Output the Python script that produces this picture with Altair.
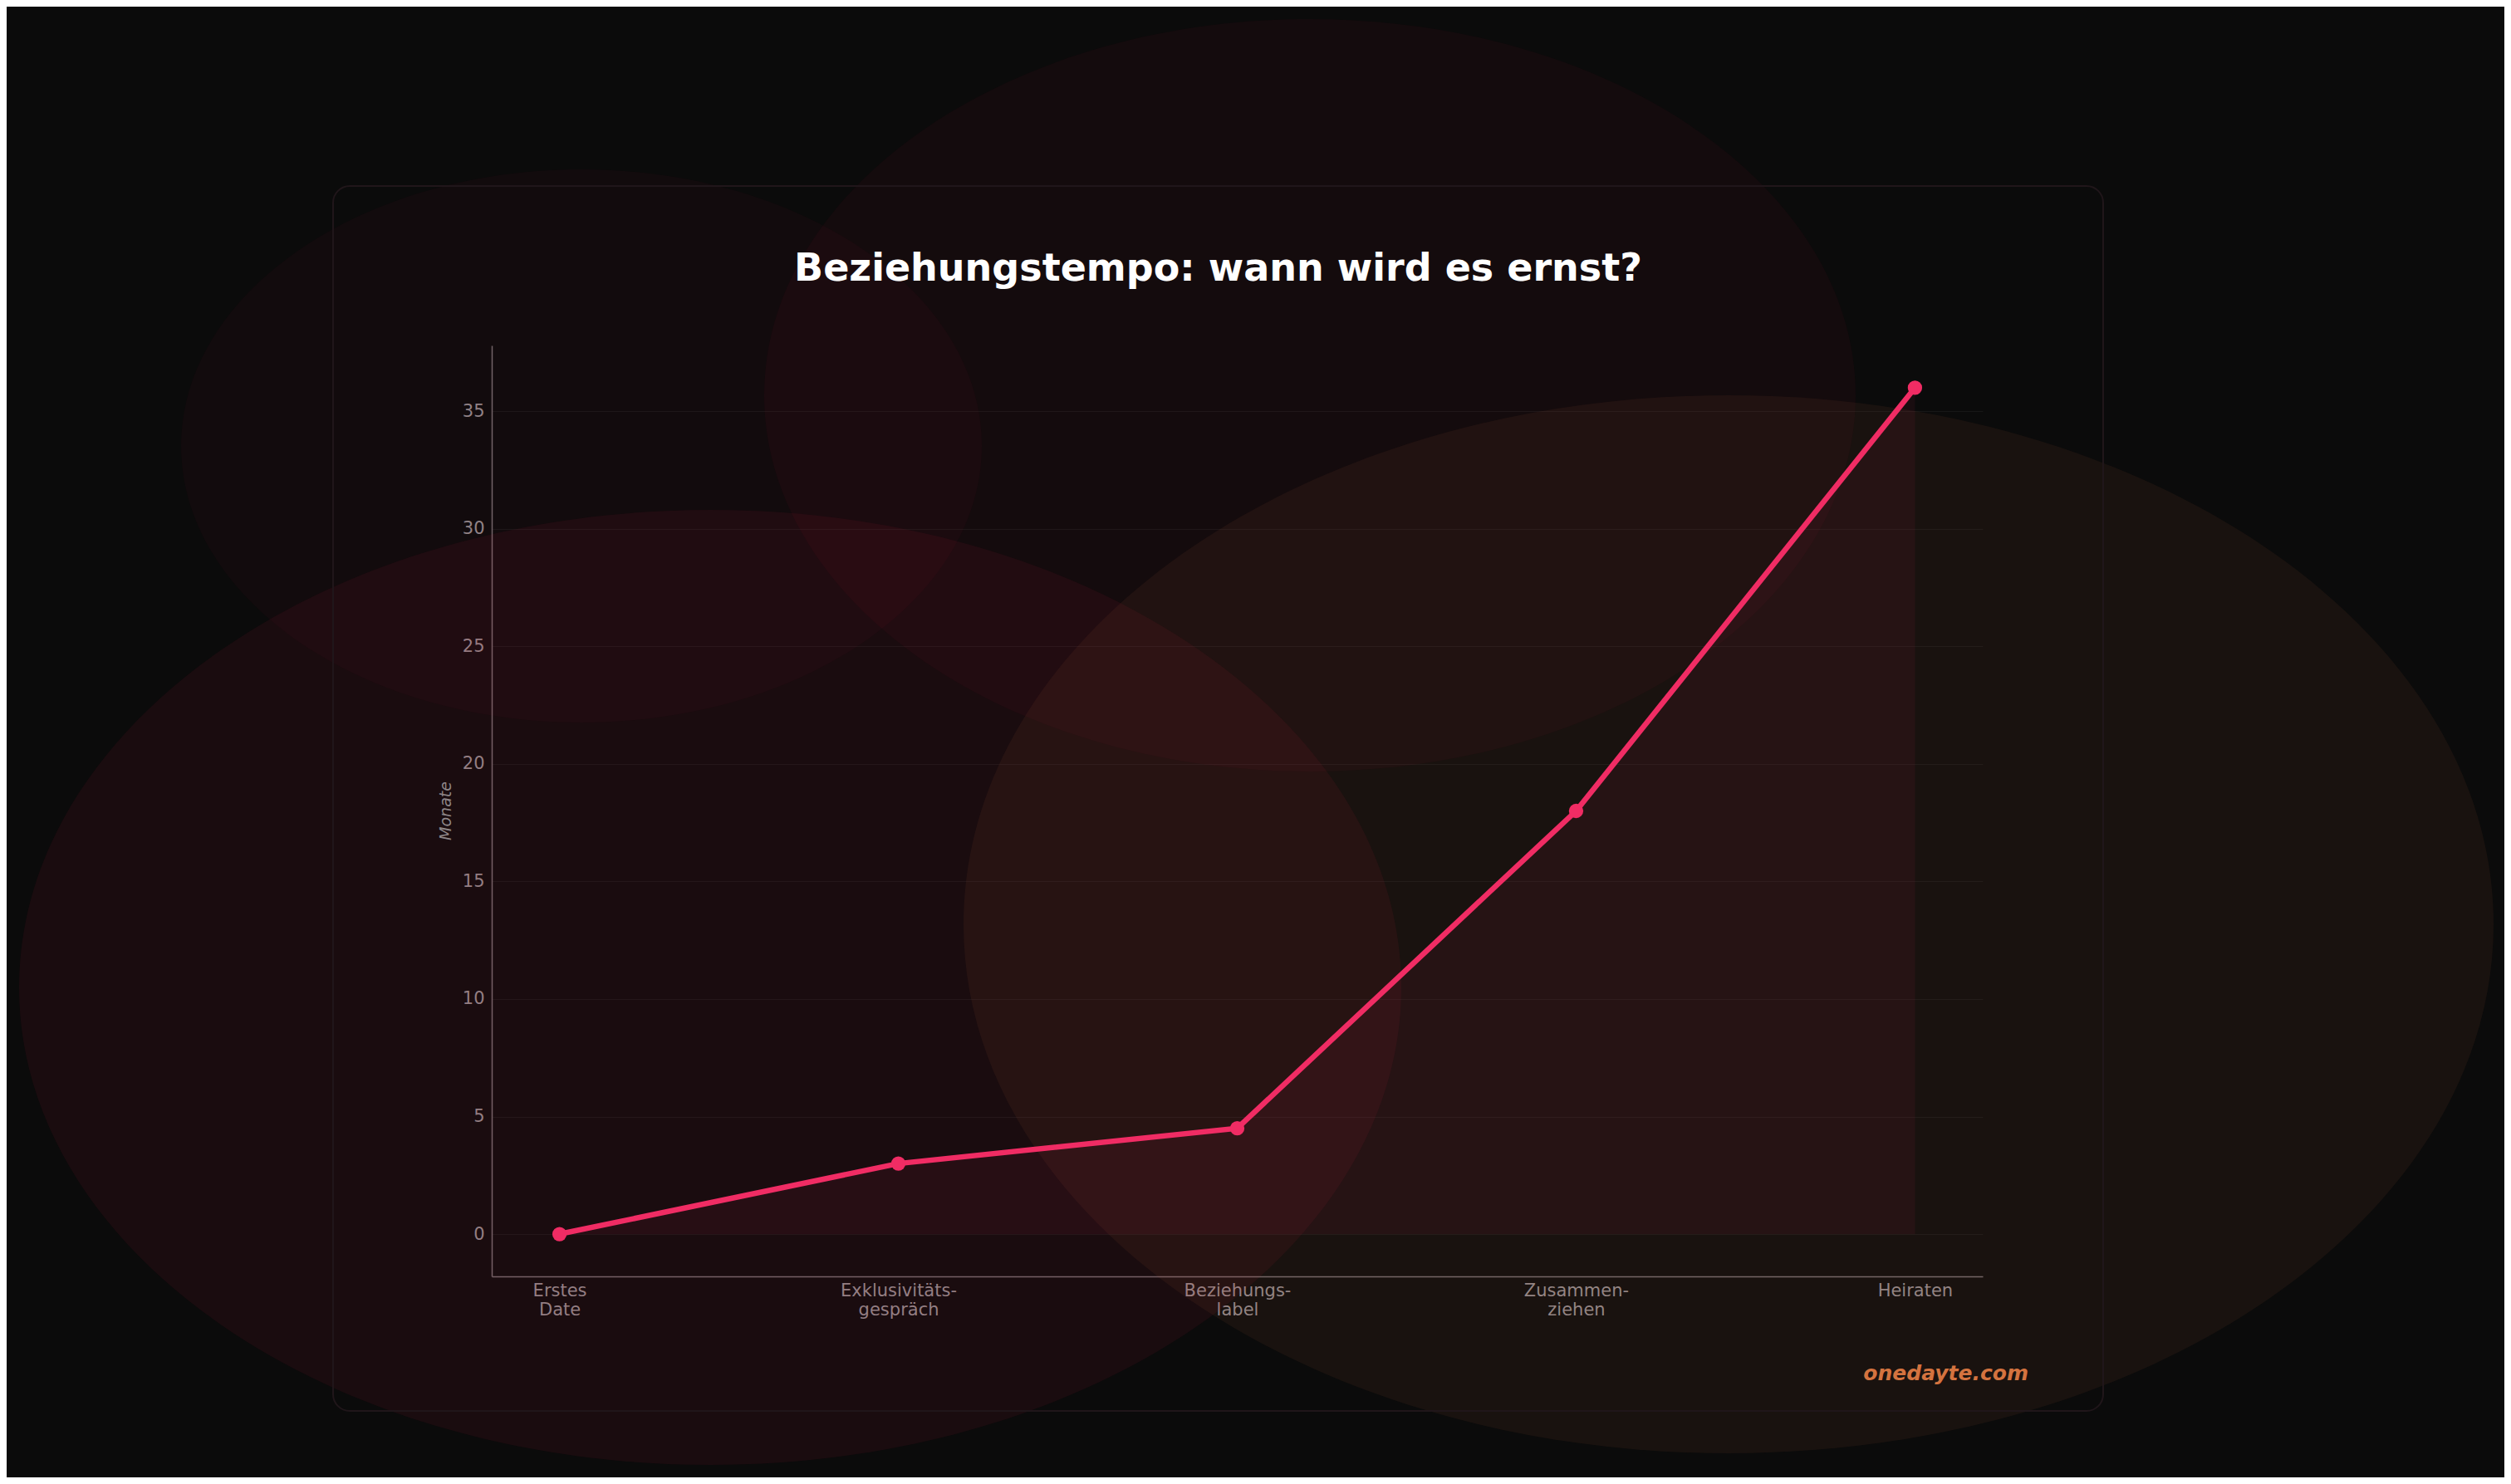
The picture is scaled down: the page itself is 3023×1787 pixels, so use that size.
import altair as alt
import pandas as pd

# ---- data ----
stages = ["Erstes Date", "Exklusivitätsgespräch", "Beziehungslabel", "Zusammenziehen", "Heiraten"]
stage_lines = [["Erstes", "Date"], ["Exklusivitäts-", "gespräch"], ["Beziehungs-", "label"],
               ["Zusammen-", "ziehen"], ["Heiraten"]]
months = [0, 3, 4.5, 18, 36]
y_ticks = [0, 5, 10, 15, 20, 25, 30, 35]
title_text = "Beziehungstempo: wann wird es ernst?"
y_title = "Monate"
watermark = "onedayte.com"

# ---- styling ----
W, H = 1795, 1121
PINK = "#f02c64"
LABEL = "#8e8688"
FONT = "DejaVu Sans"

df = pd.DataFrame({"idx": list(range(len(stages))), "stage": stages, "months": months})

label_expr = "[" + ",".join("[" + ",".join("'" + s + "'" for s in lines) + "]"
                            for lines in stage_lines) + "][datum.value]"

x_enc = alt.X(
    "idx:Q",
    scale=alt.Scale(domain=[-0.2, len(stages) - 1 + 0.2], nice=False, zero=False),
    axis=alt.Axis(values=list(range(len(stages))), labelExpr=label_expr, title=None,
                  grid=False, ticks=False, labelPadding=6, labelFontSize=21,
                  labelColor=LABEL, labelLineHeight=23, labelFont=FONT,
                  domainColor="#6e6668", domainWidth=1.5, labelAngle=0),
)
y_enc = alt.Y(
    "months:Q",
    scale=alt.Scale(domain=[-1.8, 37.8], nice=False, zero=False),
    axis=alt.Axis(values=y_ticks, title=None, grid=True, gridColor="#ffffff",
                  gridOpacity=0.05, gridWidth=1.2, ticks=False, labelPadding=9,
                  labelFontSize=21, labelColor=LABEL, labelFont=FONT,
                  domainColor="#6e6668", domainWidth=1.5),
)

# ---- decorative background blobs (pixel space, relative to plot area) ----
decor = [
    # cx, cy, rx, ry, color, opacity
    (108, 121, 482, 333, "#e11d48", 0.035),
    (985, 60, 657, 453, "#e11d48", 0.045),
    (263, 773, 832, 575, "#e11d48", 0.07),
    (1489, 697, 921, 637, "#d97745", 0.07),
]


def ellipse_path(e):
    k = 0.5523
    return (f"M 1 0 C 1 {k*e} {k} {e} 0 {e} C {-k} {e} -1 {k*e} -1 0 "
            f"C -1 {-k*e} {-k} {-e} 0 {-e} C {k} {-e} 1 {-k*e} 1 0 Z")


one = pd.DataFrame({"d": [0]})
layers = []
for cx, cy, rx, ry, col, op in decor:
    layers.append(
        alt.Chart(one).mark_point(filled=True, shape=ellipse_path(ry / rx), color=col,
                                  opacity=op, strokeWidth=0)
        .encode(x=alt.value(cx), y=alt.value(cy), size=alt.value((2 * rx) ** 2))
    )

frame = alt.Chart(one).mark_rect(fillOpacity=0, stroke="#20161a", strokeWidth=2,
                                 cornerRadius=20).encode(
    x=alt.value(-191), x2=alt.value(1940), y=alt.value(-192), y2=alt.value(1283))

base = alt.Chart(df)
area = base.mark_area(color=PINK, opacity=0.06, stroke=PINK, strokeOpacity=0.1,
                      strokeWidth=2).encode(x=x_enc, y=y_enc, y2=alt.datum(0))
line = base.mark_line(color=PINK, strokeWidth=6.5).encode(x=x_enc, y=y_enc)
pts = base.mark_circle(color=PINK, opacity=1, size=300).encode(x=x_enc, y=y_enc)

title = alt.Chart(pd.DataFrame({"t": [title_text]})).mark_text(
    font=FONT, fontSize=46, fontWeight="bold", color="#ffffff", align="center",
    baseline="alphabetic").encode(text="t:N", x=alt.value(874.5), y=alt.value(-78))

ytitle = alt.Chart(pd.DataFrame({"t": [y_title]})).mark_text(
    font=FONT, fontSize=19, fontStyle="italic", color=LABEL, align="center",
    baseline="middle", angle=270).encode(text="t:N", x=alt.value(-55), y=alt.value(H / 2))

wm = alt.Chart(pd.DataFrame({"t": [watermark]})).mark_text(
    font=FONT, fontSize=25, fontWeight="bold", fontStyle="italic", color="#d4733f",
    align="right", baseline="alphabetic").encode(text="t:N", x=alt.value(1850), y=alt.value(1246))

chart = alt.layer(*layers, frame, area, line, pts, title, ytitle, wm).properties(
    width=W, height=H,
    padding={"left": 584, "top": 408, "right": 628, "bottom": 242},
    autosize=alt.AutoSizeParams(type="none"),
    background="#0b0b0b",
).configure_view(strokeWidth=0)

chart.save("out.html", embed_options={"renderer": "svg", "actions": False})
